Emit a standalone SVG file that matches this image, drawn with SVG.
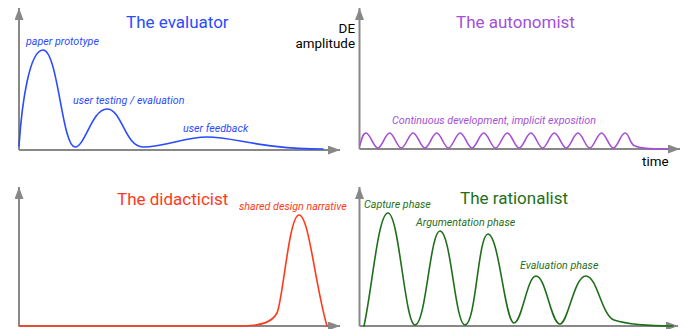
<svg xmlns="http://www.w3.org/2000/svg" width="686" height="329" viewBox="0 0 686 329">
<style>
  .axis { stroke: #888888; stroke-width: 2; fill: none; marker-end: url(#arrow); }
  .curve { fill: none; stroke-width: 1.6; stroke-linejoin: round; stroke-linecap: round; }
  .title { font-family: Roboto, "Liberation Sans", sans-serif; font-size: 17px; }
  .label { font-family: Roboto, "Liberation Sans", sans-serif; font-size: 10.7px; font-style: italic; }
  .ax-label { font-family: Roboto, "Liberation Sans", sans-serif; font-size: 13.4px; fill: #000000; }
  .blue { stroke: #2a4bff; } .blue-t { fill: #2a4bff; }
  .purple { stroke: #a54fd6; } .purple-t { fill: #a54fd6; }
  .red { stroke: #ff3a1a; } .red-t { fill: #ff3a1a; }
  .green { stroke: #1f6f1a; } .green-t { fill: #1f6f1a; }
</style>
<defs>
  <marker id="arrow" markerUnits="userSpaceOnUse" markerWidth="12" markerHeight="9" refX="12" refY="4.5" orient="auto">
    <path d="M0,0 L12,4.5 L0,9 z" fill="#888888"/>
  </marker>
</defs>
<rect width="686" height="329" fill="#ffffff"/>

<g id="panel-evaluator">
  <line class="axis" x1="19" y1="150" x2="19" y2="8"/>
  <line class="axis" x1="19" y1="150" x2="340" y2="150"/>
  <path class="curve blue" d="M19,146 C22,100 30,50 43,50 C58,50 62,147 75,147 C85,147 92,109 107,109 C122,109 125,147 143,147 C165,147 185,137 207,137 C235,137 260,149 323,149"/>
  <text class="title blue-t" x="126" y="28">The evaluator</text>
  <text class="label blue-t" x="26" y="45">paper prototype</text>
  <text class="label blue-t" x="73" y="104">user testing / evaluation</text>
  <text class="label blue-t" x="183" y="132">user feedback</text>
</g>

<g id="panel-autonomist">
  <line class="axis" x1="359.5" y1="149" x2="359.5" y2="8"/>
  <line class="axis" x1="359.5" y1="149" x2="680" y2="149"/>
  <path class="curve purple" d="M360,145 C362,138 363,133 366,133 C370.2,133 373.5,148 377.8,148 C382,148 385.3,133 389.6,133 C393.8,133 397.1,148 401.3,148 C405.5,148 408.9,133 413.1,133 C417.3,133 420.6,148 424.9,148 C429.1,148 432.4,133 436.7,133 C440.9,133 444.2,148 448.4,148 C452.6,148 456,133 460.2,133 C464.4,133 467.7,148 472,148 C476.2,148 479.5,133 483.8,133 C488,133 491.3,148 495.5,148 C499.7,148 503.1,133 507.3,133 C511.5,133 514.8,148 519.1,148 C523.3,148 526.6,133 530.9,133 C535.1,133 538.4,148 542.6,148 C546.8,148 550.2,133 554.4,133 C558.6,133 561.9,148 566.2,148 C570.4,148 573.7,133 578,133 C582.2,133 585.5,148 589.7,148 C593.9,148 597.3,133 601.5,133 C605.7,133 609,148 613.3,148 C617.5,148 620.8,133 625.1,133 C629,133 629.5,143 634,145.5 C640,148.5 648,149 668,149"/>
  <text class="title purple-t" x="456" y="28">The autonomist</text>
  <text class="label purple-t" x="392" y="124">Continuous development, implicit exposition</text>
  <text class="ax-label" x="355" y="33" text-anchor="end">DE</text>
  <text class="ax-label" x="355" y="48" text-anchor="end">amplitude</text>
  <text class="ax-label" x="642" y="166">time</text>
</g>

<g id="panel-didacticist">
  <line class="axis" x1="19" y1="326" x2="19" y2="187"/>
  <line class="axis" x1="19" y1="326" x2="340" y2="326"/>
  <path class="curve red" d="M19,326 L240,326 C262,326 272,322 277,313 C283,300 289,215 299,215 C309,215 315,285 327,326"/>
  <text class="title red-t" x="117" y="205">The didacticist</text>
  <text class="label red-t" x="239" y="210">shared design narrative</text>
</g>

<g id="panel-rationalist">
  <line class="axis" x1="359.5" y1="326" x2="359.5" y2="187"/>
  <line class="axis" x1="359.5" y1="326" x2="678" y2="326"/>
  <path class="curve green" d="M364,326 C372,290 378,213 388,213 C399,213 405,325 415,325 C426,325 430,231 440,231 C451,231 455,325 465,325 C476,325 478,234 488,234 C499,234 505,323 514,323 C522,323 527,276 536,276 C546,276 551,324 560,324 C568,324 574,276 586,276 C597,276 602,316 614,320 C630,325 650,326 673,326"/>
  <text class="title green-t" x="460" y="204">The rationalist</text>
  <text class="label green-t" x="364" y="208">Capture phase</text>
  <text class="label green-t" x="416" y="226">Argumentation phase</text>
  <text class="label green-t" x="520" y="269">Evaluation phase</text>
</g>
</svg>
